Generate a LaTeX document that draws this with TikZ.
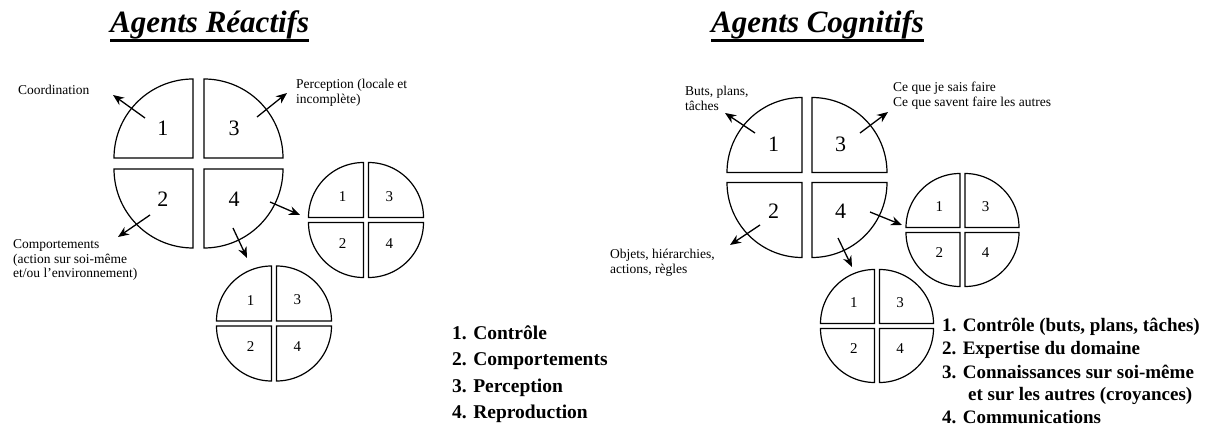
\documentclass[tikz,border=0pt]{standalone}
\usepackage{fontspec}
\setmainfont{Liberation Serif}
\usetikzlibrary{calc,arrows.meta}
% one disc of four quadrants: name, centre x, centre y, radius, half gap, digit style
\newcommand{\agentdisc}[6]{%
  \coordinate (#1) at (#2,#3);
  \foreach \q/\sx/\sy in {1/-1/-1, 2/-1/1, 3/1/-1, 4/1/1}{
    \pgfmathsetmacro\qa{\sx>0 ? 0 : 180}
    \pgfmathsetmacro\qb{\qa+(\sx)*(\sy)*90}
    \pgfmathsetmacro\cx{#2+(\sx)*#5}
    \pgfmathsetmacro\cy{#3+(\sy)*#5}
    \draw[quad] (\cx,\cy) -- plot[domain=\qa:\qb, samples=40]
      ({\cx+#4*cos(\x)}, {\cy+#4*sin(\x)}) -- cycle;
    \node[#6] (#1-\q) at ({\cx+(\sx)*0.38*#4}, {\cy+(\sy)*0.38*#4}) {\q};
  }
}

\begin{document}
\begin{tikzpicture}[x=1pt, y=1pt, yscale=-1,
  quad/.style={draw, line width=1.2pt, fill=white, line join=miter},
  numbig/.style={font=\fontsize{22}{22}\selectfont, inner sep=0},
  numsmall/.style={font=\fontsize{15}{15}\selectfont, inner sep=0},
  lbl/.style={font=\fontsize{13.5}{14.5}\selectfont, align=left, inner sep=0, anchor=west},
  leg/.style={font=\bfseries\fontsize{19.5}{20}\selectfont, anchor=base west, inner sep=0},
  ttl/.style={font=\bfseries\itshape\fontsize{31}{31}\selectfont, anchor=base west, inner sep=0},
  arr/.style={-{Stealth[length=11pt, width=9pt]}, line width=1.3pt}
]
  \useasboundingbox (0,0) rectangle (1205,427);

  % Titles
  \node[ttl] (ttlR) at (110,33) {Agents Réactifs};
  \node[ttl] (ttlC) at (711,33) {Agents Cognitifs};
  \foreach \t in {ttlR, ttlC}
    \draw[line width=2.8pt] ($(\t.south west)+(0,1)$) -- ($(\t.south east)+(0,1)$);

  % Reactive agents
  \agentdisc{Lbig}{198.5}{163.5}{79}{5.5}{numbig}
  \agentdisc{Lside}{366}{220}{55}{2.5}{numsmall}
  \agentdisc{Llow}{274}{323.5}{55}{2.5}{numsmall}

  \node[lbl] (coord) at (18,90) {Coordination};
  \node[lbl] (percep) at (296,93) {Perception (locale et\\incomplète)};
  \node[lbl] (comport) at (13,260) {Comportements\\(action sur soi-même\\et/ou l'environnement)};

  \coordinate (L1t) at (145,118);  \coordinate (L1h) at (113,95);
  \coordinate (L3t) at (257,117);  \coordinate (L3h) at (287,93);
  \coordinate (L2t) at (150,215);  \coordinate (L2h) at (118,237);
  \coordinate (L4t) at (270,202);  \coordinate (L4h) at (300,215);
  \coordinate (L5t) at (233,228);  \coordinate (L5h) at (247,258);
  \foreach \a in {L1, L2, L3, L4, L5}
    \draw[arr] (\a t) -- (\a h);

  \foreach \i/\txt/\y in {1/Contrôle/339.5, 2/Comportements/366,
                          3/Perception/392.5, 4/Reproduction/419}
    \node[leg] (legR\i) at (452,\y) {\i. \txt};

  % Cognitive agents
  \agentdisc{Rbig}{807}{177.5}{75}{5}{numbig}
  \agentdisc{Rside}{962.5}{230}{54}{2.5}{numsmall}
  \agentdisc{Rlow}{877}{326}{54}{2.5}{numsmall}

  \node[lbl] (buts) at (685,98.5) {Buts, plans,\\tâches};
  \node[lbl] (savoir) at (893,95.5) {Ce que je sais faire\\Ce que savent faire les autres};
  \node[lbl, anchor=east] (objets) at (715,263) {Objets, hiérarchies,\\actions, règles};

  \coordinate (R1t) at (755,133);  \coordinate (R1h) at (725,113);
  \coordinate (R3t) at (860,133);  \coordinate (R3h) at (888,112);
  \coordinate (R2t) at (760,225);  \coordinate (R2h) at (730,245);
  \coordinate (R4t) at (870,212);  \coordinate (R4h) at (902,225);
  \coordinate (R5t) at (838,238);  \coordinate (R5h) at (852,267);
  \foreach \a in {R1, R2, R3, R4, R5}
    \draw[arr] (\a t) -- (\a h);

  \foreach \i/\txt/\x/\y in {1/1. Contrôle (buts{,} plans{,} tâches)/942/332,
                             2/2. Expertise du domaine/942/355,
                             3/3. Connaissances sur soi-même/942/378.5,
                             4/et sur les autres (croyances)/968/401,
                             5/4. Communications/942/423.5}
    \node[leg, font=\bfseries\fontsize{19}{20}\selectfont] (legC\i) at (\x,\y) {\txt};
\end{tikzpicture}
\end{document}
